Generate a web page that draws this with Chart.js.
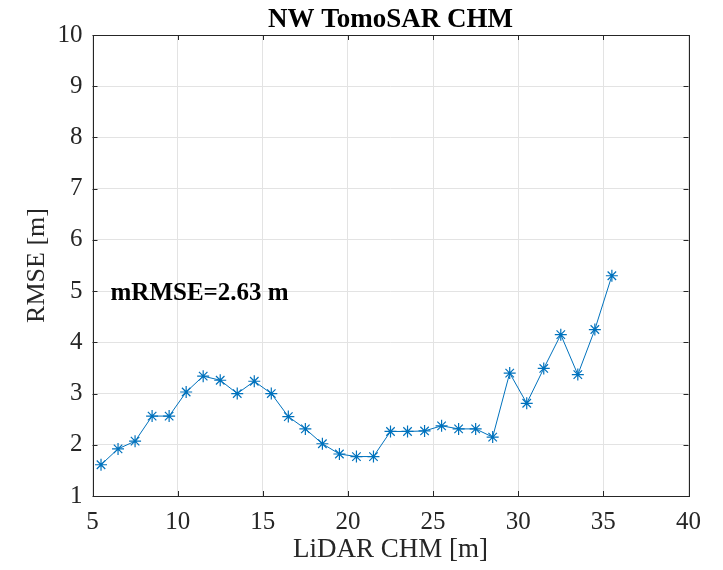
<!DOCTYPE html>
<html>
<head>
<meta charset="utf-8">
<title>NW TomoSAR CHM</title>
<script src="https://cdn.jsdelivr.net/npm/chart.js@4.4.1/dist/chart.umd.min.js"></script>
<style>
    html, body { margin: 0; padding: 0; background: #fff; }
    #wrap { width: 723px; height: 570px; }
</style>
</head>
<body>
<div id="wrap"><canvas id="rmseChart" width="723" height="570"></canvas></div>
<script>
// bin centres of the LiDAR canopy height (m) and RMSE per bin (m)
const chmBins = [5.5, 6.5, 7.5, 8.5, 9.5, 10.5, 11.5, 12.5, 13.5, 14.5, 15.5,
    16.5, 17.5, 18.5, 19.5, 20.5, 21.5, 22.5, 23.5, 24.5, 25.5, 26.5, 27.5,
    28.5, 29.5, 30.5, 31.5, 32.5, 33.5, 34.5, 35.5];
const rmseValues = [1.61, 1.92, 2.07, 2.56, 2.56, 3.03, 3.34, 3.26, 3.00, 3.24, 3.00,
    2.55, 2.31, 2.02, 1.82, 1.77, 1.77, 2.26, 2.26, 2.27, 2.37, 2.31, 2.31,
    2.15, 3.40, 2.81, 3.49, 4.15, 3.37, 4.25, 5.30];
const xTicks = [5, 10, 15, 20, 25, 30, 35, 40];
const yTicks = [1, 2, 3, 4, 5, 6, 7, 8, 9, 10];
const meanLabel = "mRMSE=2.63 m";
const meanLabelAt = [6, 5];
const chartTitle = "NW TomoSAR CHM";

const SERIF = "'Liberation Serif', 'Times New Roman', serif";
const LINE_BLUE = "#0072BD";
const AXIS_COLOR = "#262626";

const points = chmBins.map((x, i) => ({x: x, y: rmseValues[i]}));

// box, inward ticks, title and the annotation, MATLAB style
const axesBox = {
    id: "axesBox",
    afterDraw(chart) {
        const ctx = chart.ctx;
        const area = chart.chartArea;
        const xs = chart.scales.x;
        const ys = chart.scales.y;
        const tickLen = 5;
        ctx.save();
        ctx.strokeStyle = AXIS_COLOR;
        ctx.lineWidth = 1;
        ctx.beginPath();
        xTicks.forEach(v => {
            const px = Math.round(xs.getPixelForValue(v)) + 0.5;
            ctx.moveTo(px, area.bottom);
            ctx.lineTo(px, area.bottom - tickLen);
            ctx.moveTo(px, area.top);
            ctx.lineTo(px, area.top + tickLen);
        });
        yTicks.forEach(v => {
            const py = Math.round(ys.getPixelForValue(v)) + 0.5;
            ctx.moveTo(area.left, py);
            ctx.lineTo(area.left + tickLen, py);
            ctx.moveTo(area.right, py);
            ctx.lineTo(area.right - tickLen, py);
        });
        ctx.stroke();
        ctx.strokeRect(Math.round(area.left) + 0.5, Math.round(area.top) + 0.5,
            Math.round(area.right - area.left), Math.round(area.bottom - area.top));

        ctx.fillStyle = "#000";
        ctx.font = "bold 27px " + SERIF;
        ctx.textAlign = "center";
        ctx.textBaseline = "alphabetic";
        ctx.fillText(chartTitle, (area.left + area.right) / 2, 27);

        ctx.font = "bold 25px " + SERIF;
        ctx.textAlign = "left";
        ctx.textBaseline = "middle";
        ctx.fillText(meanLabel, xs.getPixelForValue(meanLabelAt[0]) + 1,
            ys.getPixelForValue(meanLabelAt[1]) + 2);
        ctx.restore();
    }
};

const chart = new Chart(document.getElementById("rmseChart"), {
    type: "line",
    data: {
        datasets: [{
            data: points,
            borderColor: LINE_BLUE,
            backgroundColor: LINE_BLUE,
            borderWidth: 1,
            pointStyle: "star",
            pointRadius: 6,
            pointBorderWidth: 1.2,
            pointBorderColor: LINE_BLUE,
            pointHoverRadius: 6,
            tension: 0,
            fill: false
        }]
    },
    options: {
        responsive: false,
        animation: false,
        layout: {padding: {left: 0, right: 34.5, top: 35, bottom: 0}},
        plugins: {
            legend: {display: false},
            tooltip: {enabled: false}
        },
        scales: {
            x: {
                type: "linear",
                min: 5,
                max: 40,
                afterBuildTicks: (scale) => {
                    scale.ticks = xTicks.map(v => ({value: v}));
                },
                afterFit: (scale) => { scale.height = 74; },
                grid: {color: "#e3e3e3", drawTicks: false},
                border: {display: false},
                ticks: {
                    color: AXIS_COLOR,
                    font: {family: SERIF, size: 25},
                    padding: 11,
                    maxRotation: 0
                },
                title: {
                    display: true,
                    text: "LiDAR CHM [m]",
                    color: AXIS_COLOR,
                    font: {family: SERIF, size: 27},
                    padding: {top: 0, bottom: 4}
                }
            },
            y: {
                type: "linear",
                min: 1,
                max: 10,
                afterBuildTicks: (scale) => {
                    scale.ticks = yTicks.map(v => ({value: v}));
                },
                afterFit: (scale) => { scale.width = 92.5; },
                grid: {color: "#e3e3e3", drawTicks: false},
                border: {display: false},
                ticks: {
                    color: AXIS_COLOR,
                    font: {family: SERIF, size: 25},
                    padding: 10
                },
                title: {
                    display: true,
                    text: "RMSE [m]",
                    color: AXIS_COLOR,
                    font: {family: SERIF, size: 26},
                    padding: {top: 22, bottom: 0}
                }
            }
        }
    },
    plugins: [axesBox]
});
</script>
</body>
</html>
